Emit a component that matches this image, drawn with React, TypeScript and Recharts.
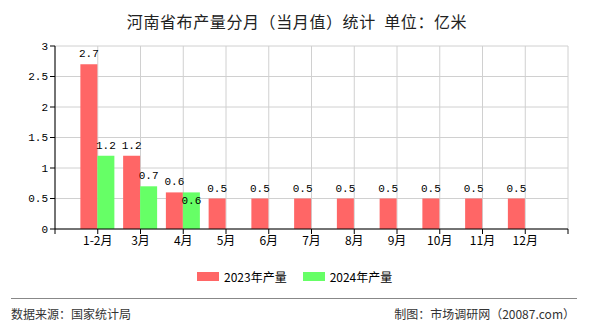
import React from "react";
import { BarChart, Bar, XAxis, YAxis, CartesianGrid } from "recharts";

const months = ["1-2月", "3月", "4月", "5月", "6月", "7月", "8月", "9月", "10月", "11月", "12月"];
const output2023 = [2.7, 1.2, 0.6, 0.5, 0.5, 0.5, 0.5, 0.5, 0.5, 0.5, 0.5];
const output2024: (number | null)[] = [1.2, 0.7, 0.6, null, null, null, null, null, null, null, null];
const yTicks = [0, 0.5, 1, 1.5, 2, 2.5, 3];
const xTicks = [0, 1, 2, 3, 4, 5, 6, 7, 8, 9, 10, 11, 12];

const RED = "#ff6666";
const GREEN = "#66ff66";
const MONO = "'Liberation Mono', 'DejaVu Sans Mono', monospace";
const CJK = "'Noto Sans CJK SC', 'Noto Sans', sans-serif";

const data = months.map((m, i) => ({
  x: i + 1,
  name: m,
  y2023: output2023[i],
  y2024: output2024[i],
}));

function fmtY(v: number): string {
  return String(v);
}

function fmtX(v: number): string {
  return months[v - 1] ?? "";
}

// value labels; the 2024 label moves inside the bar when it would collide with the 2023 one
function makeLabel(series: "a" | "b") {
  return (props: any) => {
    const { x, y, width, value, index } = props;
    if (value == null) return null;
    const inside = series === "b" && output2023[index] === value;
    return (
      <text
        x={Number(x) + Number(width) / 2}
        y={inside ? Number(y) + 12 : Number(y) - 7}
        textAnchor="middle"
        fontSize={11}
        fontFamily={MONO}
        fill="#000"
      >
        {String(value)}
      </text>
    );
  };
}

export default function App() {
  return (
    <div
      style={{
        position: "absolute",
        left: 0,
        top: 0,
        width: 590,
        height: 330,
        background: "#fff",
        fontFamily: CJK,
      }}
    >
      <div
        style={{
          position: "absolute",
          top: 9,
          left: 0,
          width: 594,
          textAlign: "center",
          fontSize: 16,
          color: "#222",
          letterSpacing: 0.6,
          whiteSpace: "pre",
        }}
      >
        河南省布产量分月（当月值）统计  单位：亿米
      </div>

      <BarChart
        width={590}
        height={330}
        data={data}
        margin={{ top: 46, right: 22, bottom: 71, left: 0 }}
        barGap={0}
      >
        <CartesianGrid stroke="#d0d0d0" />
        <XAxis
          dataKey="x"
          type="number"
          domain={[0, 12]}
          ticks={xTicks}
          interval={0}
          tickFormatter={fmtX}
          height={30}
          tickSize={5}
          axisLine={{ stroke: "#000" }}
          tickLine={{ stroke: "#000" }}
          tick={{ fontSize: 12, fill: "#000", fontFamily: CJK }}
        />
        <YAxis
          type="number"
          domain={[0, 3]}
          ticks={yTicks}
          width={55}
          tickSize={5}
          tickFormatter={fmtY}
          axisLine={{ stroke: "#000" }}
          tickLine={{ stroke: "#000" }}
          tick={{ fontSize: 11, fill: "#000", fontFamily: MONO }}
        />
        <Bar
          dataKey="y2023"
          fill={RED}
          barSize={17}
          isAnimationActive={false}
          label={makeLabel("a")}
        />
        <Bar
          dataKey="y2024"
          fill={GREEN}
          barSize={17}
          isAnimationActive={false}
          label={makeLabel("b")}
        />
      </BarChart>

      <div
        style={{
          position: "absolute",
          top: 268,
          left: 197,
          display: "flex",
          alignItems: "center",
          fontSize: 12,
          color: "#000",
        }}
      >
        <span style={{ display: "inline-block", width: 22, height: 9, background: RED }} />
        <span style={{ marginLeft: 5 }}>2023年产量</span>
        <span style={{ display: "inline-block", width: 22, height: 9, background: GREEN, marginLeft: 16 }} />
        <span style={{ marginLeft: 5 }}>2024年产量</span>
      </div>

      <div
        style={{
          position: "absolute",
          top: 298,
          left: 11,
          width: 566,
          height: 1,
          background: "#888",
        }}
      />
      <div style={{ position: "absolute", top: 305, left: 11, fontSize: 12, color: "#333" }}>
        数据来源：国家统计局
      </div>
      <div style={{ position: "absolute", top: 305, right: 15, fontSize: 12, color: "#333" }}>
        制图：市场调研网（20087.com）
      </div>
    </div>
  );
}
